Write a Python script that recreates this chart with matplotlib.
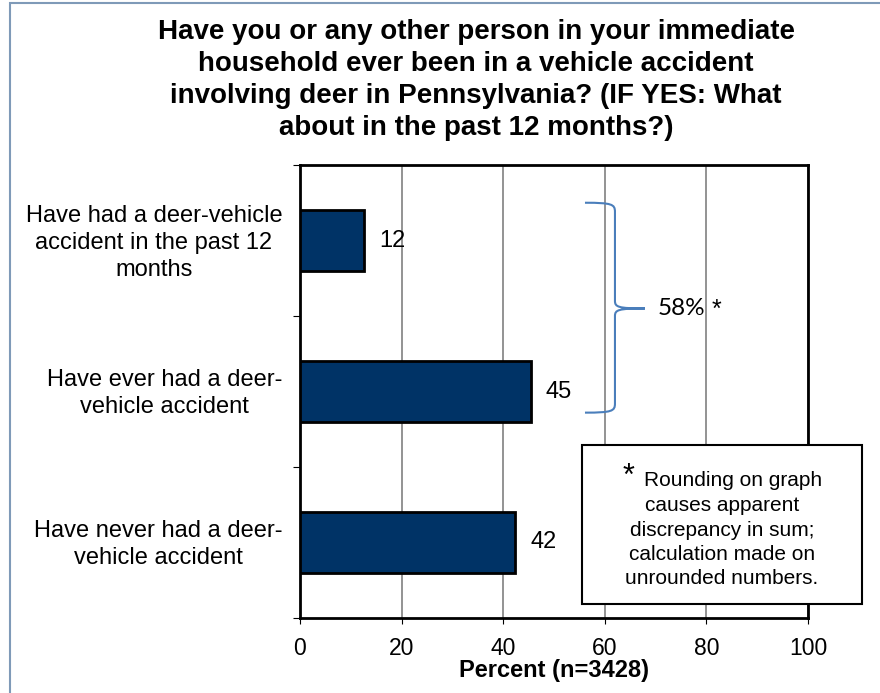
import matplotlib
matplotlib.use('Agg')
import matplotlib.pyplot as plt
from matplotlib.path import Path
from matplotlib.patches import PathPatch, Rectangle

plt.rcParams['font.family'] = ['Liberation Sans', 'DejaVu Sans']

# data
categories = ['Have had a deer-vehicle\naccident in the past 12\nmonths',
              'Have ever had a deer-\nvehicle accident',
              'Have never had a deer-\nvehicle accident']
values = [12.6, 45.4, 42.3]
labels = ['12', '45', '42']
xticks = [0, 20, 40, 60, 80, 100]
title = ('Have you or any other person in your immediate\n'
         'household ever been in a vehicle accident\n'
         'involving deer in Pennsylvania? (IF YES: What\n'
         'about in the past 12 months?)')
xlabel = 'Percent (n=3428)'
note_lines = ['Rounding on graph', 'causes apparent', 'discrepancy in sum;',
              'calculation made on', 'unrounded numbers.']

fig = plt.figure(figsize=(8.8, 6.93), dpi=100)
ax = fig.add_axes([300/880, 1-618/693, 508/880, 453/693])

ypos = list(range(len(categories)))
ax.barh(ypos, values, height=0.4, color='#003366', edgecolor='black', linewidth=2, zorder=3)
for y, v, t in zip(ypos, values, labels):
    ax.text(v + 3, y, t, va='center', ha='left', fontsize=17, zorder=4)

ax.set_xlim(0, 100)
ax.set_ylim(2.5, -0.5)
ax.set_xticks(xticks)
ax.tick_params(axis='x', labelsize=16.5, length=4, direction='out', pad=10)
ax.set_yticks([])
ax.set_yticks([-0.5, 0.5, 1.5, 2.5], minor=True)
ax.tick_params(axis='y', which='minor', length=5, direction='out', width=0.8)
ax.xaxis.grid(True, color='#808080', linewidth=1.2, zorder=0)
for s in ax.spines.values():
    s.set_linewidth(2)
ax.set_xlabel(xlabel, fontsize=17, fontweight='bold', labelpad=-1)

for y, c in zip(ypos, categories):
    ax.text(-0.035, y + 0.015, c, transform=ax.get_yaxis_transform(), ha='right', va='center',
            multialignment='center', fontsize=17, linespacing=1.3)

fig.text(476/880, 1-19/693, title, ha='center', va='top', fontsize=20, fontweight='bold',
         linespacing=1.3)

# brace
x0, x1, xt = 56.1, 62.0, 67.9
ya, ym, yb = -0.25, 0.45, 1.14
verts = [(x0, ya), (x1 - 0.6, ya), (x1, ya + 0.01), (x1, ya + 0.06),
         (x1, ym - 0.05),
         (x1, ym - 0.01), (x1 + 0.6, ym), (xt, ym),
         (x1 + 0.6, ym), (x1, ym + 0.01), (x1, ym + 0.05),
         (x1, yb - 0.06),
         (x1, yb - 0.01), (x1 - 0.6, yb), (x0, yb)]
codes = [Path.MOVETO, Path.CURVE4, Path.CURVE4, Path.CURVE4,
         Path.LINETO,
         Path.CURVE4, Path.CURVE4, Path.CURVE4,
         Path.CURVE4, Path.CURVE4, Path.CURVE4,
         Path.LINETO,
         Path.CURVE4, Path.CURVE4, Path.CURVE4]
ax.add_patch(PathPatch(Path(verts, codes), facecolor='none', edgecolor='#4a7ebb',
                       linewidth=1.5, zorder=5, clip_on=False))
ax.text(70.5, ym, '58%', va='center', ha='left', fontsize=17.5, family=['Lato', 'DejaVu Sans'], zorder=5)
ax.text(81.0, ym + 0.01, '*', va='center', ha='left', fontsize=18, zorder=5)

# footnote box
ax.add_patch(Rectangle((582/880, 1-604/693), 280/880, 159/693, transform=fig.transFigure,
                       facecolor='white', edgecolor='black', linewidth=1.5, zorder=6, clip_on=False))
fig.text(628/880, 1-477/693, '*', ha='center', va='center', fontsize=22, zorder=7)
for i, line in enumerate(note_lines):
    xc = 733 if i == 0 else 722
    fig.text(xc/880, 1-(481 + 24.5*i)/693, line, ha='center', va='center', fontsize=15, zorder=7)

# outer frame
fig.add_artist(Rectangle((10/880, -0.05), 1.0, 1 - 3/693 + 0.05, transform=fig.transFigure,
                         facecolor='none', edgecolor='#7f9ab8', linewidth=1.5))

fig.savefig('out.png', dpi=100)
